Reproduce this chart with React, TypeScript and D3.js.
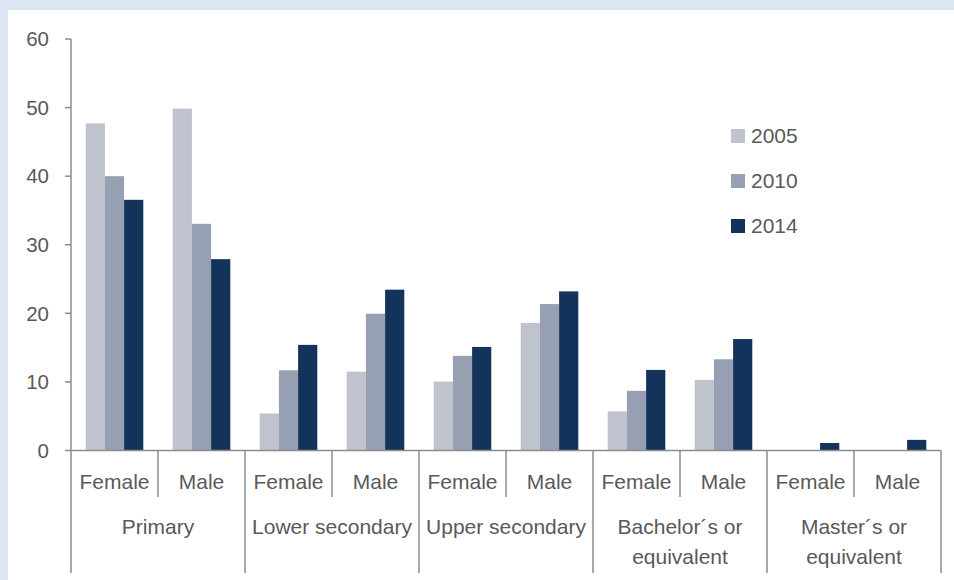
import React from "react";
import * as d3 from "d3";

const groups = ["Primary", "Lower secondary", "Upper secondary", "Bachelor´s or\nequivalent", "Master´s or\nequivalent"];
const sexes = ["Female", "Male"];
const years = ["2005", "2010", "2014"];
const yearColors = ["#bec3ce", "#97a0b3", "#14335a"];
// order: for each group, Female then Male
const values2005 = [47.7, 49.85, 5.4, 11.5, 10.05, 18.6, 5.7, 10.3, 0, 0];
const values2010 = [40.0, 33.05, 11.7, 19.95, 13.8, 21.35, 8.7, 13.3, 0, 0];
const values2014 = [36.55, 27.9, 15.4, 23.45, 15.1, 23.2, 11.75, 16.25, 1.1, 1.55];
const yTicks = [0, 10, 20, 30, 40, 50, 60];

const W = 954, H = 580;
const FONT = "'Liberation Sans', Arial, sans-serif";
const TXT = "#595959";
const AX = "#8c8c8c";

export default function App() {
  const left = 71, right = 941, top = 39, base = 450.5;
  const y = d3.scaleLinear().domain([0, 60]).range([base, top]);
  const cats = d3.range(groups.length * sexes.length);
  const x = d3.scaleBand<number>().domain(cats).range([left, right]).paddingInner(0).paddingOuter(0);
  const bw = x.bandwidth();
  const inner = d3.scaleBand<string>().domain(years).range([0, bw]).paddingInner(0).paddingOuter(0.766);
  const series = [values2005, values2010, values2014];

  return (
    <div style={{ position: "absolute", left: 0, top: 0, width: W, height: H, background: "#dce6f2" }}>
      <svg width={W} height={H} style={{ display: "block" }}>
        <rect x={8} y={10} width={W - 8} height={H - 10} fill="#ffffff" />
        {/* bars */}
        {series.map((vals, si) =>
          vals.map((v, ci) =>
            v > 0 ? (
              <rect
                key={`${si}-${ci}`}
                x={(x(ci) as number) + (inner(years[si]) as number)}
                y={y(v)}
                width={inner.bandwidth()}
                height={base - y(v)}
                fill={yearColors[si]}
              />
            ) : null
          )
        )}
        {/* y axis */}
        <line x1={left} x2={left} y1={top} y2={base} stroke={AX} strokeWidth={1.5} />
        {yTicks.map((t) => (
          <g key={t}>
            <line x1={left - 6} x2={left} y1={y(t)} y2={y(t)} stroke={AX} strokeWidth={1.5} />
            <text x={49} y={y(t)} dy="0.35em" textAnchor="end" fontFamily={FONT} fontSize={20.5} fill={TXT}>
              {t}
            </text>
          </g>
        ))}
        {/* x axis */}
        <line x1={left} x2={right} y1={base} y2={base} stroke={AX} strokeWidth={1.5} />
        {d3.range(cats.length + 1).map((i) => {
          const xx = left + i * bw;
          const isGroup = i % 2 === 0;
          return <line key={i} x1={xx} x2={xx} y1={base} y2={isGroup ? 573 : 497} stroke={AX} strokeWidth={1.5} />;
        })}
        {cats.map((ci) => (
          <text key={ci} x={(x(ci) as number) + bw / 2} y={482} dy="0.35em" textAnchor="middle" fontFamily={FONT} fontSize={21} fill={TXT}>
            {sexes[ci % 2]}
          </text>
        ))}
        {groups.map((g, gi) => {
          const cx = left + (gi * 2 + 1) * bw;
          const lines = g.split("\n");
          return (
            <text key={g} x={cx} y={527} textAnchor="middle" fontFamily={FONT} fontSize={21} fill={TXT}>
              {lines.map((l, li) => (
                <tspan key={li} x={cx} dy={li === 0 ? "0.35em" : 30}>
                  {l}
                </tspan>
              ))}
            </text>
          );
        })}
        {/* legend */}
        {years.map((yr, i) => (
          <g key={yr} transform={`translate(731, ${136 + i * 45})`}>
            <rect x={0} y={-7} width={14} height={14} fill={yearColors[i]} />
            <text x={20} y={0} dy="0.35em" fontFamily={FONT} fontSize={21} fill={TXT}>
              {yr}
            </text>
          </g>
        ))}
      </svg>
    </div>
  );
}
